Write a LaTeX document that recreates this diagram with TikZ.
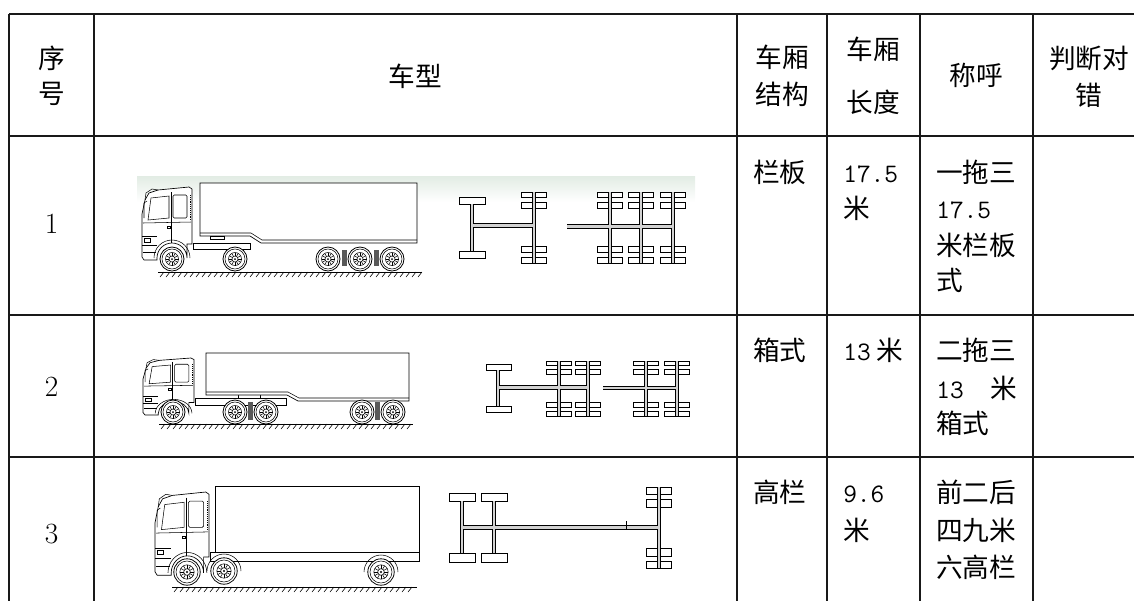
\documentclass[tikz,border=0pt]{standalone}
\usepackage{fontspec}
\newfontfamily\cjk{Noto Sans CJK SC}
\usepackage{xcolor}
\definecolor{bandgreen}{RGB}{226,236,228}
\usepackage{tikz}
\tikzset{
  grid/.style     ={ line width=1.1pt, draw=black!90 },
  cell/.style     ={ font=\cjk\fontsize{20pt}{27pt}\selectfont, inner sep=0pt, anchor=base west },
  head/.style     ={ cell, anchor=base },
  num/.style      ={ font=\fontsize{22pt}{27pt}\selectfont, inner sep=0pt, anchor=base },
  body/.style     ={ draw=black, line width=0.5pt, fill=white },
  tyre/.style     ={ draw=black, line width=0.6pt, fill=white },
  bars/.style     ={ draw=black, line width=0.5pt, double=gray!35, double distance=2.2pt },
  spring/.style   ={ fill=black!65 },
%
  cab/.pic={
    \draw[body] (15,73) -- (2,73) -- (0,70) -- (0,27) -- (3,13) -- (7,6) -- (16,3) -- (47,0) -- (50,2)
                -- (50,57) -- (45,57) -- (45,71) arc[start angle=0, end angle=-180, radius=15] -- cycle;
    \draw[thin] (3,13) -- (4,6) -- (10,2) -- (16,3);
    \draw[thin] (9,11) -- (27,9) -- (27,31) -- (6,33) -- cycle;
    \draw[thin, rounded corners=1pt] (31,8) rectangle (45,31);
    \draw[thin] (29,5) -- (29,56);
    \draw[thin] (1,36) -- (49,35);
    \draw[thin] (5,14) -- (2,16) -- (2,31);
    \draw[thin] (0,49) -- (15,49) (0,58) -- (15,58) (1,65) -- (14,65);
    \draw[thin] (2,51) rectangle (8,55);
    \draw[thin] (25,39) rectangle (28,41);
    \draw[densely dotted] (48,8) -- (48,33);
    \draw[thin] (48,71) arc[start angle=0, end angle=-180, radius=18];
  },
  wheel/.pic={
    \draw[tyre] (0,0) circle (12);
    \draw[thin] (0,0) circle (10);
    \draw[thin] (0,0) circle (6.5);
    \draw[thin] (0,0) circle (3);
    \foreach \a in {0,30,...,330} \draw[thin] (\a:3) -- (\a:6.5);
    \fill (0,0) circle (1);
  }
}
% ground line with hatching: from x #1 to x #2 at height #3
\newcommand{\ground}[3]{%
  \draw[line width=0.6pt] (#1,#3) -- (#2,#3);
  \pgfmathtruncatemacro\nhatch{(#2-#1)/6}
  \foreach \i in {1,...,\nhatch} \draw[thin] (#1+6*\i,#3) -- ++(-4,5);}

\begin{document}
\begin{tikzpicture}[x=0.75pt, y=-0.75pt]
\useasboundingbox (0,0) rectangle (1134,601);

%% table rules
\foreach \y in {14,136,315,457} \draw[grid] (9,\y) -- (1134,\y);
\foreach \x in {9,94,737,827,920,1033} \draw[grid] (\x,14) -- (\x,601);

%% header
\node[head] (hxh1) at (51.5,68)  {序};
\node[head] (hxh2) at (51.5,103) {号};
\node[head] (hcx)  at (415,86)   {车型};
\node[head] (hjg1) at (782,67)   {车厢};
\node[head] (hjg2) at (782,104)  {结构};
\node[head] (hcd1) at (873,59)   {车厢};
\node[head] (hcd2) at (873,112)  {长度};
\node[head] (hch)  at (976,85)   {称呼};
\node[head] (hpd1) at (1089,68)  {判断对};
\node[head] (hpd2) at (1089,105) {错};

%% row 1
\node[num]  (n1)   at (51.5,233) {1};
\node[cell] (r1jg) at (753,182)  {栏板};
\node[cell] (r1cd1) at (843,182) {\ttfamily 17.5};
\node[cell] (r1cd2) at (843,218) {米};
\node[cell] (r1ch1) at (936,182) {一拖三};
\node[cell] (r1ch2) at (936,218) {\ttfamily 17.5};
\node[cell] (r1ch3) at (936,255) {米栏板};
\node[cell] (r1ch4) at (936,290) {式};

%% row 2
\node[num]  (n2)   at (51.5,396) {2};
\node[cell] (r2jg) at (753,360)  {箱式};
\node[cell] (r2cd) at (843,360)  {{\ttfamily 13} 米};
\node[cell] (r2ch1) at (936,360) {二拖三};
\node[cell] (r2ch2) at (936,398) {\makebox[60.75pt][l]{{\ttfamily 13}\hfill 米}};
\node[cell] (r2ch3) at (936,433) {箱式};

%% row 3
\node[num]  (n3)   at (51.5,543) {3};
\node[cell] (r3jg) at (753,502)  {高栏};
\node[cell] (r3cd1) at (843,502) {\ttfamily 9.6};
\node[cell] (r3cd2) at (843,540) {米};
\node[cell] (r3ch1) at (936,502) {前二后};
\node[cell] (r3ch2) at (936,540) {四九米};
\node[cell] (r3ch3) at (936,577) {六高栏};

%% truck 1: tractor with three-axle trailer
\shade[top color=bandgreen, bottom color=white] (137,176) rectangle (695,202);
\draw[body] (193,243) rectangle (250,249);
\draw[body] (200,183) -- (417,183) -- (417,243) -- (261,243) -- (250,236) -- (200,236) -- cycle;
\draw[thin] (200,233) -- (251,233) -- (262,240) -- (417,240);
\draw[body] (210,236) rectangle (224,239);
\pic at (142,187) {cab};
\foreach \x in {172,235,328,360,392} \pic at (\x,259) {wheel};
\fill[spring] (342,250) rectangle (347,266);
\fill[spring] (374,250) rectangle (379,266);
\ground{158}{422}{272}

\draw[tyre] (459,197) rectangle (485,204);
\draw[tyre] (459,251) rectangle (485,258);
\foreach \x in {534,610,641,673}
  \foreach \ya/\yb in {192/197,202/208,246/252,257/263}
    \draw[tyre] (\x-12.5,\ya) rectangle (\x+12.5,\yb);
\draw[bars] (472,204) -- (472,251) (472,225.5) -- (534,225.5) (534,192) -- (534,263)
            (567,226.5) -- (673,226.5)
            (610,192) -- (610,263) (641,192) -- (641,263) (673,192) -- (673,263);

%% truck 2: tractor with two-axle trailer
\draw[body] (195,398) rectangle (286,405);
\draw[body] (238,394) rectangle (260,398);
\draw[body] (206,353) -- (409,353) -- (409,401) -- (298,401) -- (287,395) -- (206,395) -- cycle;
\draw[thin] (206,392) -- (288,392) -- (299,398) -- (409,398);
\pic[xscale=1.02, yscale=0.78] at (143,358) {cab};
\foreach \x in {173,235,266,362,393} \pic at (\x,412) {wheel};
\fill[spring] (248,402) rectangle (253,420);
\fill[spring] (375,402) rectangle (380,420);
\ground{159}{413}{424}

\draw[tyre] (486,364) rectangle (511,370);
\draw[tyre] (486,406) rectangle (511,412);
\foreach \x in {559,588,646,677}
  \foreach \ya/\yb in {361/365,369/374,402/407,411/416}
    \draw[tyre] (\x-12.5,\ya) rectangle (\x+12.5,\yb);
\draw[bars] (498,370) -- (498,406) (498,387.5) -- (588,387.5)
            (559,361) -- (559,416) (588,361) -- (588,416)
            (603,388) -- (677,388) (646,361) -- (646,416) (677,361) -- (677,416);

%% truck 3: rigid truck, two front axles
\draw[body] (210,552) rectangle (419,561);
\draw[body] (215,486) rectangle (419,552);
\pic[xscale=1.08, yscale=1.14] at (155,492) {cab};
\draw[thin] (241,571) arc[start angle=0, end angle=-180, radius=17];
\draw[thin] (398,572) arc[start angle=0, end angle=-180, radius=17];
\foreach \x/\y in {187/572,224/571,381/572} \pic[scale=1.1] at (\x,\y) {wheel};
\ground{172}{417}{587}

\foreach \x in {462,494} {
  \draw[tyre] (\x-13,493) rectangle (\x+13,501);
  \draw[tyre] (\x-13,553) rectangle (\x+13,562);
}
\foreach \ya/\yb in {487/494,499/507,548/556,561/568}
  \draw[tyre] (646,\ya) rectangle (671,\yb);
\draw[bars] (462,501) -- (462,553) (494,501) -- (494,553) (462,527.5) -- (659,527.5) (659,487) -- (659,568);
\draw[thin] (626,521) -- (626,529);

\end{tikzpicture}
\end{document}
